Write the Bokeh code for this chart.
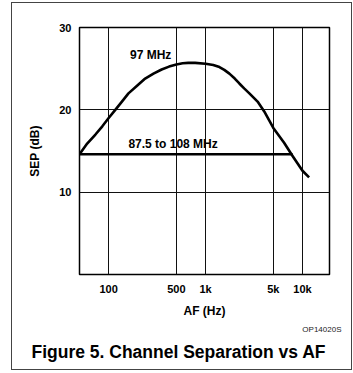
from bokeh.plotting import figure
from bokeh.models import FixedTicker, Label, Range1d, Title
from bokeh.embed import file_html
from bokeh.resources import INLINE

# data
af_97 = [50, 60, 73, 86, 100, 117, 137, 160, 195, 238, 290, 352, 420, 500, 580, 662, 780,
         1000, 1200, 1390, 1560, 1760, 2000, 2230, 2500, 2830, 3440, 4030, 5000, 6460,
         7900, 10000, 11700]
sep_97 = [14.6, 15.9, 17.0, 18.0, 19.0, 20.0, 21.0, 22.0, 22.9, 23.8, 24.4, 24.9, 25.25,
          25.5, 25.65, 25.7, 25.7, 25.6, 25.45, 25.2, 24.85, 24.4, 23.8, 23.2, 22.6, 22.0,
          21.0, 19.8, 17.8, 16.0, 14.4, 12.6, 11.8]
af_band = [50, 7900]
sep_band = [14.6, 14.6]
x_ticks = [100, 500, 1000, 5000, 10000]
x_tick_labels = ["100", "500", "1k", "5k", "10k"]
y_ticks = [10, 20, 30]

FONT = "Liberation Sans"

p = figure(x_axis_type="log", x_range=Range1d(50, 19000), y_range=Range1d(0, 30),
           frame_width=250, frame_height=247, width=339, height=366,
           min_border_left=67, min_border_right=22, min_border_top=24, min_border_bottom=95,
           output_backend="svg", toolbar_location=None)
p.styles = {"border": "1px solid #444444", "margin-left": "11px", "margin-top": "2px"}

p.outline_line_color = "black"
p.outline_line_width = 1.5
p.background_fill_color = "white"
p.border_fill_color = "white"

# axes
for ax in (p.xaxis, p.yaxis):
    ax.axis_line_color = None
    ax.major_tick_line_color = None
    ax.minor_tick_line_color = None
    ax.major_tick_out = 0
    ax.major_tick_in = 0
    ax.major_label_text_font = FONT
    ax.major_label_text_font_style = "bold"
    ax.major_label_text_font_size = "11px"
    ax.major_label_text_color = "black"
    ax.axis_label_text_font = FONT
    ax.axis_label_text_font_style = "bold"
    ax.axis_label_text_font_size = "12px"
    ax.axis_label_text_color = "black"

p.xaxis.ticker = FixedTicker(ticks=x_ticks)
p.xaxis.major_label_overrides = {t: l for t, l in zip(x_ticks, x_tick_labels)}
p.xaxis.major_label_standoff = 8
p.xaxis.axis_label = "AF (Hz)"
p.xaxis.axis_label_standoff = 6

p.yaxis.ticker = FixedTicker(ticks=y_ticks)
p.yaxis.major_label_standoff = 8
p.yaxis.axis_label = "SEP (dB)"
p.yaxis.axis_label_standoff = 14

p.xgrid.ticker = FixedTicker(ticks=x_ticks)
p.ygrid.ticker = FixedTicker(ticks=y_ticks)
for g in (p.xgrid, p.ygrid):
    g.grid_line_color = "#111111"
    g.grid_line_width = 1
    g.grid_line_alpha = 1

# curves
p.line(af_97, sep_97, line_color="black", line_width=2.6, line_join="round")
p.line(af_band, sep_band, line_color="black", line_width=2.6)

p.add_layout(Label(x=271, y=26.6, text="97 MHz", text_align="center", text_baseline="middle",
                   text_font=FONT, text_font_style="bold", text_font_size="12px",
                   text_color="black"))
p.add_layout(Label(x=462, y=15.9, text="87.5 to 108 MHz", text_align="center",
                   text_baseline="middle", text_font=FONT, text_font_style="bold",
                   text_font_size="12px", text_color="black"))

# footer texts
p.add_layout(Title(text="OP14020S", align="right", offset=-12, standoff=4,
                   text_font=FONT, text_font_style="normal", text_font_size="8px",
                   text_color="#222222"), "below")
p.add_layout(Title(text="Figure 5. Channel Separation vs AF", align="left", offset=-48,
                   standoff=8, text_font=FONT, text_font_style="bold",
                   text_font_size="17.5px", text_color="black"), "below")

open("out.html", "w").write(file_html(p, INLINE))
